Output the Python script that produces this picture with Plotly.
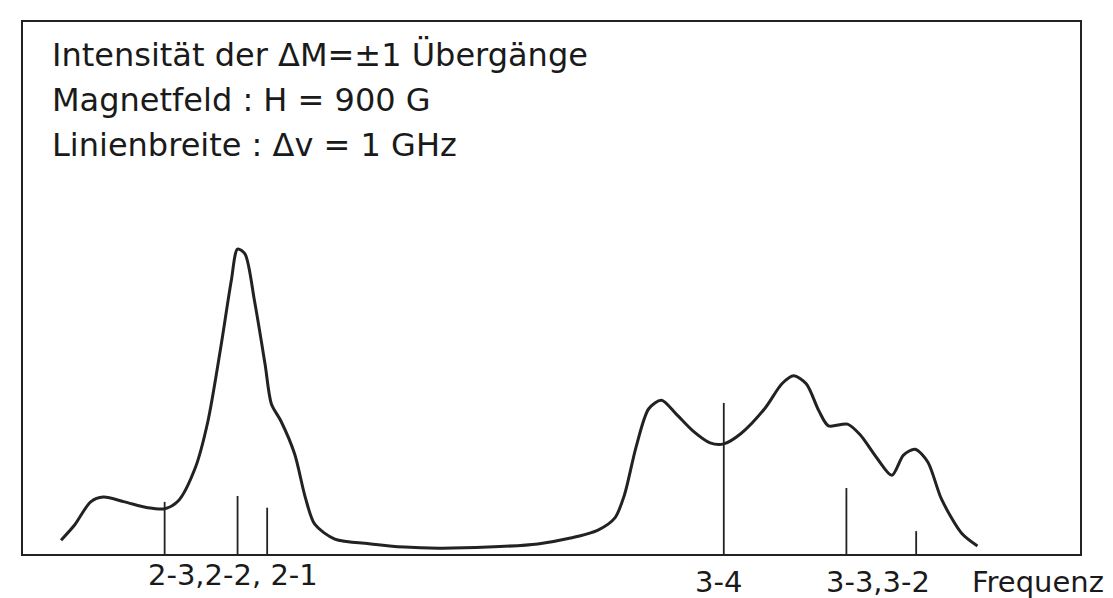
import plotly.graph_objects as go

# Spectrum envelope (arbitrary frequency units 0..100, intensity 0..100)
curve_x = [3.6, 4.9, 6.4, 7.6, 9.6, 11.8, 13.4, 14.7, 16.3, 17.5, 18.7, 19.7, 20.3, 21.0,
           21.9, 22.9, 23.5, 24.4, 25.7, 26.7, 27.6, 29.5, 32.9, 36.1, 39.3, 44.0, 48.7,
           51.8, 54.4, 56.0, 56.9, 58.0, 59.2, 60.4, 61.8, 63.4, 65.0, 66.3, 67.9, 70.2,
           71.8, 72.9, 74.1, 75.3, 76.2, 78.0, 79.2, 80.8, 82.2, 83.3, 84.4, 85.6, 86.9,
           88.8, 90.3]
curve_y = [2.6, 5.5, 9.8, 10.7, 9.8, 8.7, 8.5, 10.0, 16.2, 25.0, 38.7, 51.3, 57.3, 56.4,
           47.6, 35.7, 28.2, 25.0, 18.8, 10.7, 5.6, 2.8, 1.9, 1.3, 1.1, 1.3, 1.9,
           3.0, 4.5, 6.8, 11.1, 20.1, 27.3, 28.9, 26.3, 23.1, 20.9, 20.7, 22.6, 27.4,
           32.0, 33.5, 32.0, 26.9, 24.1, 24.4, 22.4, 18.0, 14.8, 18.6, 19.7, 17.3, 10.3,
           3.9, 1.5]

# Individual transition lines (stick spectrum)
stick_x = [13.4, 20.3, 23.1, 66.3, 77.9, 84.5]
stick_y = [9.8, 10.9, 8.7, 28.4, 12.4, 4.3]

# Labels below the axis
label_text = ["2-3,2-2, 2-1", "3-4", "3-3,3-2", "Frequenz"]
label_x = [19.9, 65.8, 80.9, 96.0]

header_lines = ["Intensität der ΔM=±1 Übergänge",
                "Magnetfeld : H = 900 G",
                "Linienbreite : Δv = 1 GHz"]

ink = "#222222"
text_ink = "#1a1a1a"
font_family = "DejaVu Sans, Verdana, sans-serif"

fig = go.Figure()

fig.add_trace(go.Scatter(
    x=curve_x, y=curve_y, mode="lines",
    line=dict(color=ink, width=3, shape="spline", smoothing=0.8),
    hoverinfo="skip", showlegend=False))

sx, sy = [], []
for xv, yv in zip(stick_x, stick_y):
    sx += [xv, xv, None]
    sy += [0, yv, None]
fig.add_trace(go.Scatter(
    x=sx, y=sy, mode="lines",
    line=dict(color=ink, width=1.8),
    hoverinfo="skip", showlegend=False))

annotations = []
label_shift = [-21, -28, -28, -28]
for t, xv, ys in zip(label_text, label_x, label_shift):
    annotations.append(dict(
        x=xv, y=0, xref="x", yref="y", text=t, showarrow=False,
        xanchor="center", yanchor="middle", yshift=ys,
        font=dict(family=font_family, size=29, color=text_ink)))

header_y = [0.938, 0.853, 0.769]
for t, yv in zip(header_lines, header_y):
    annotations.append(dict(
        x=0.026, y=yv, xref="paper", yref="paper", text=t, showarrow=False,
        xanchor="left", yanchor="middle",
        font=dict(family=font_family, size=32, color=text_ink)))

axis_common = dict(showgrid=False, zeroline=False, showticklabels=False,
                   ticks="", showline=True, mirror=True,
                   linecolor=ink, linewidth=2)

fig.update_layout(
    width=1113, height=598,
    margin=dict(l=15, r=41, t=14, b=52),
    paper_bgcolor="white", plot_bgcolor="white",
    xaxis=dict(range=[0, 100], **axis_common),
    yaxis=dict(range=[0, 100], **axis_common),
    annotations=annotations,
)

fig.write_html("out.html")
